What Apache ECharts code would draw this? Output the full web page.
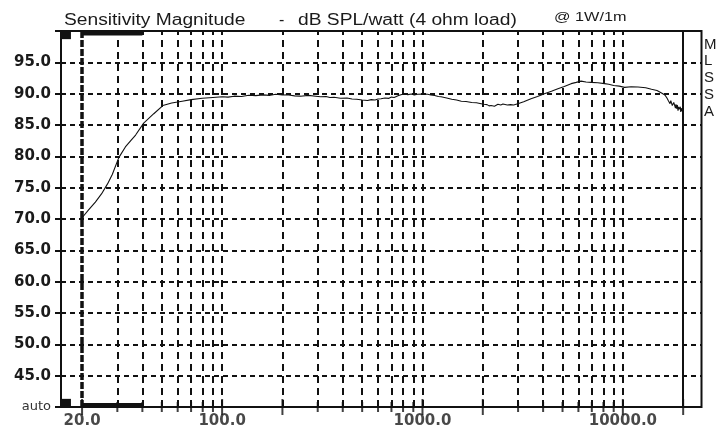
<!DOCTYPE html>
<html>
<head>
<meta charset="utf-8">
<script src="https://cdn.jsdelivr.net/npm/echarts@6/dist/echarts.min.js"></script>
<style>
html,body{margin:0;padding:0;background:#fff;}
#chart{width:719px;height:432px;}
</style>
</head>
<body>
<div id="chart"></div>
<script>
// Frequency response (Hz) and sensitivity (dB SPL/W)
var freqs = [20, 21.5, 23.3, 25, 26.8, 28.3, 30.5, 32.9, 35, 37, 40.6, 45.6, 50.6, 56, 63.2, 70, 79.6, 90,
  100, 107, 115, 125, 136, 147, 160, 172, 185, 200, 215, 230, 246, 270, 293, 310, 330, 345, 362, 390, 420, 445, 470, 500, 532,
  555, 580, 600, 621, 650, 680, 700, 722, 760, 810, 845, 880, 910, 946, 1000, 1062, 1100,
  1150, 1200, 1238, 1320, 1400, 1480, 1562, 1650, 1760, 1860, 1962, 2030, 2100, 2150, 2200, 2240, 2286, 2330, 2380, 2420, 2459,
  2520, 2574, 2650, 2750, 2850, 2992, 3200, 3480, 3750, 4060, 4400, 4740, 5100,
  5520, 5850, 6190, 6550, 6950, 7500, 8100, 8500, 9000, 9600, 10200, 11000, 11900, 13000, 13900, 14800, 15600, 16200, 16600, 16850, 17050, 17200,
  17350, 17500, 17650, 17800, 17950, 18150, 18300, 18400, 18550, 18700, 18850, 18950, 19100, 19240, 19350, 19450, 19550, 19650, 19750, 19850, 20000];
var spl = [70.2, 71.4, 72.7, 74.0, 75.6, 77.1, 79.8, 81.5, 82.5, 83.4, 85.3, 86.8, 88.1, 88.5, 88.8, 89.05, 89.26, 89.4,
  89.5, 89.45, 89.6, 89.55, 89.74, 89.68, 89.8, 89.72, 89.9, 89.78, 89.8, 89.65, 89.6, 89.72, 89.6, 89.5, 89.55, 89.4, 89.42, 89.28, 89.3, 89.15, 89.1, 89.0, 88.9,
  89.05, 89.0, 89.15, 89.2, 89.3, 89.25, 89.45, 89.4, 89.7, 90.0, 89.85, 89.95, 89.8, 89.9, 89.95, 89.9, 89.8,
  89.7, 89.55, 89.5, 89.3, 89.1, 89.0, 88.8, 88.75, 88.6, 88.55, 88.4, 88.3, 88.25, 88.05, 88.1, 87.9, 88.0, 88.15, 88.3, 88.1, 88.2,
  88.35, 88.3, 88.2, 88.25, 88.2, 88.4, 88.7, 89.2, 89.55, 90.0, 90.4, 90.8, 91.15,
  91.6, 91.8, 92.0, 91.85, 91.8, 91.75, 91.6, 91.5, 91.3, 91.2, 91.0, 91.1, 91.06, 90.95, 90.7, 90.5, 90.1, 89.8, 89.3, 88.9, 89.2, 88.4,
  88.9, 88.8, 88.1, 88.0, 88.6, 88.5, 87.7, 88.3, 87.6, 88.2, 87.3, 87.9, 87.5, 87.3, 87.9, 87.1, 87.7, 87.8, 87.2, 87.6, 87.3];

// Axis grid / tick positions and labels
var gridFreqs = [20, 30, 40, 50, 60, 70, 80, 90, 100, 200, 300, 400, 500, 600, 700, 800, 900,
  1000, 2000, 3000, 4000, 5000, 6000, 7000, 8000, 9000, 10000, 20000];
var majorTicks = [20, 100, 200, 1000, 2000, 10000, 20000];
var xLabelFreqs = [20, 100, 1000, 10000];
var xLabelTexts = ['20.0', '100.0', '1000.0', '10000.0'];
var rightLetters = ['M', 'L', 'S', 'S', 'A'];

var INK = '#111';

var gridLineData = gridFreqs.map(function (f) {
  var style;
  if (f === 20) style = { color: INK, width: 3.5, type: [7, 2] };
  else if (f === 20000) style = { color: INK, width: 2, type: 'solid' };
  else style = { color: INK, width: 2, type: [7, 5] };
  return { xAxis: f, lineStyle: style };
});

var tickData = gridFreqs.map(function (f) {
  var major = majorTicks.indexOf(f) >= 0;
  return {
    value: [f, 40],
    symbolSize: [2, major ? 16 : 10],
    itemStyle: { color: INK }
  };
});

var labelData = xLabelFreqs.map(function (f, i) {
  return { value: [f, 40], label: { formatter: xLabelTexts[i] } };
});

var chart = echarts.init(document.getElementById('chart'), null, { renderer: 'canvas' });
chart.setOption({
  animation: false,
  backgroundColor: '#fff',
  grid: {
    left: 61, right: 17.5, top: 31, bottom: 25,
    show: true, borderColor: INK, borderWidth: 2,
    containLabel: false, outerBoundsMode: 'none'
  },
  xAxis: {
    type: 'log', logBase: 10, min: 15.7, max: 24690,
    axisLine: { show: false }, axisTick: { show: false },
    axisLabel: { show: false }, splitLine: { show: false },
    minorTick: { show: false }, minorSplitLine: { show: false }
  },
  yAxis: {
    type: 'value', min: 40, max: 100, interval: 5,
    axisLine: { show: true, lineStyle: { color: INK, width: 2 } },
    axisTick: { show: true, length: 6, lineStyle: { color: INK, width: 2 } },
    axisLabel: {
      margin: 10,
      color: '#1a1a1a',
      fontFamily: 'DejaVu Sans',
      fontWeight: 'bold',
      fontSize: 15,
      formatter: function (v) {
        if (v === 40) return '{a|auto}';
        if (v === 100) return '';
        return v.toFixed(1);
      },
      rich: { a: { fontFamily: 'DejaVu Sans', fontWeight: 'normal', fontSize: 13, color: '#333' } }
    },
    splitLine: { show: true, lineStyle: { color: INK, width: 2, type: [5, 4] } }
  },
  graphic: [
    { type: 'text', x: 64, y: 13, scaleX: 1.2, z: 10,
      style: { text: 'Sensitivity Magnitude', font: '16px "Liberation Sans"', fill: '#1a1a1a', textVerticalAlign: 'top' } },
    { type: 'text', x: 279, y: 13, z: 10,
      style: { text: '-', font: '16px "Liberation Sans"', fill: '#1a1a1a', textVerticalAlign: 'top' } },
    { type: 'text', x: 298, y: 13, scaleX: 1.2, z: 10,
      style: { text: 'dB SPL/watt (4 ohm load)', font: '16px "Liberation Sans"', fill: '#1a1a1a', textVerticalAlign: 'top' } },
    { type: 'text', x: 554, y: 11, scaleX: 1.25, z: 10,
      style: { text: '@ 1W/1m', font: '13px "Liberation Sans"', fill: '#1a1a1a', textVerticalAlign: 'top' } },
    { type: 'text', x: 704, y: 36, z: 10,
      style: { text: rightLetters.join('\n'), font: '15px "Liberation Sans"', lineHeight: 16.8, fill: '#1a1a1a', textVerticalAlign: 'top' } }
  ],
  series: [
    {
      type: 'scatter',
      name: 'ticks',
      z: 1,
      clip: false,
      silent: true,
      symbol: 'rect',
      data: tickData,
      markLine: {
        silent: true,
        symbol: ['none', 'none'],
        label: { show: false },
        emphasis: { disabled: true },
        data: gridLineData
      },
      markArea: {
        silent: true,
        itemStyle: { color: INK },
        data: [
          [{ xAxis: 20, yAxis: 40 }, { xAxis: 40, yAxis: 40.65 }],
          [{ xAxis: 20, yAxis: 99.3 }, { xAxis: 40, yAxis: 100 }],
          [{ xAxis: 15.7, yAxis: 40 }, { xAxis: 17.6, yAxis: 41.3 }],
          [{ xAxis: 15.7, yAxis: 98.7 }, { xAxis: 17.6, yAxis: 100 }]
        ]
      }
    },
    {
      type: 'scatter',
      name: 'xlabels',
      z: 2,
      clip: false,
      silent: true,
      symbolSize: 0,
      data: labelData,
      label: {
        show: true, position: 'bottom', distance: 7,
        color: '#1a1a1a', fontFamily: 'DejaVu Sans', fontWeight: 'bold', fontSize: 15
      }
    },
    {
      type: 'line',
      name: 'Sensitivity',
      z: 5,
      symbol: 'none',
      smooth: false,
      lineStyle: { color: '#111', width: 1.1 },
      data: freqs.map(function (f, i) { return [f, spl[i]]; })
    }
  ]
});
</script>
</body>
</html>
